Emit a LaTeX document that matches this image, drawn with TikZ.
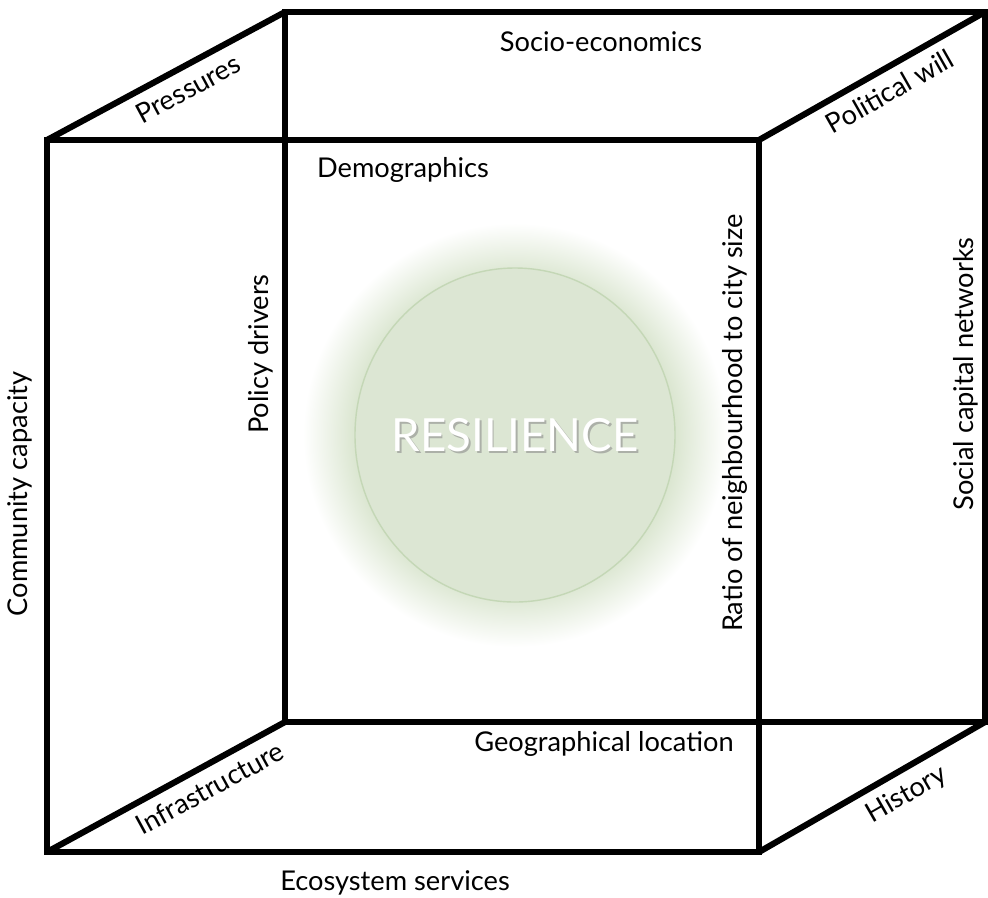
\documentclass[tikz,border=0pt]{standalone}
\usepackage{fontspec}
\setmainfont{Lato}
\definecolor{glowgreen}{HTML}{D5E2C9}
\definecolor{resfill}{HTML}{DCE6D3}
\definecolor{resline}{HTML}{C4D7B6}
\pgfdeclareradialshading{resglow}{\pgfpoint{0bp}{0bp}}{color(0bp)=(glowgreen); color(18bp)=(glowgreen); color(25bp)=(white); color(50bp)=(white)}

\begin{document}
\begin{tikzpicture}[x=0.02cm, y=-0.02cm,
    edge/.style={line width=3.5pt, line join=miter},
    lbl/.style={font=\fontsize{15.5}{18}\selectfont, inner sep=2pt},
    slopelbl/.style={lbl, inner sep=5pt, sloped},
    reslbl/.style={font=\fontsize{26}{30}\selectfont, inner sep=0pt}]
            \useasboundingbox (0,0) rectangle (988,897);

            \coordinate (ftl) at (47,140);
            \coordinate (ftr) at (759,140);
            \coordinate (fbl) at (47,852);
            \coordinate (fbr) at (759,852);
            \coordinate (btl) at (285,12);
            \coordinate (btr) at (985,12);
            \coordinate (bbl) at (285,722);
            \coordinate (bbr) at (985,722);
            \coordinate (core) at (515,435);

            \shade[shading=resglow] (core) circle [radius=212];
            \draw[fill=resfill, draw=resline, line width=0.8pt] (core) ellipse [x radius=160, y radius=167];
            \node[reslbl, text=black!45, opacity=0.6] (resshadow) at ([xshift=1pt, yshift=-1pt]core) {RESILIENCE};
            \node[reslbl, text=white] (res) at (core) {RESILIENCE};

            \draw[edge] (btl) -- (btr) -- (bbr) -- (bbl) -- cycle;
            \draw[edge] (ftl) -- (ftr) -- (fbr) -- (fbl) -- cycle;
            \draw[edge] (ftl) -- (btl) node[slopelbl, pos=0.55, below] (pressures) {Pressures};
            \draw[edge] (ftr) -- (btr) node[slopelbl, pos=0.53, below] (political) {Political will};
            \draw[edge] (fbl) -- (bbl) node[slopelbl, pos=0.64, below] (infra) {Infrastructure};
            \draw[edge] (fbr) -- (bbr) node[slopelbl, pos=0.6, below] (history) {History};

            \node[lbl] (socio) at (601,42) {Socio-economics};
            \node[lbl] (demo) at (403,170) {Demographics};
            \node[lbl] (geo) at (604,744) {Geographical location};
            \node[lbl] (eco) at (395,883) {Ecosystem services};
            \node[lbl, rotate=90] (policy) at (261,354) {Policy drivers};
            \node[lbl, rotate=90] (ratio) at (735,423) {Ratio of neighbourhood to city size};
            \node[lbl, rotate=90] (community) at (20,494) {Community capacity};
            \node[lbl, rotate=90] (social) at (966,374) {Social capital networks};
        \end{tikzpicture}
\end{document}
